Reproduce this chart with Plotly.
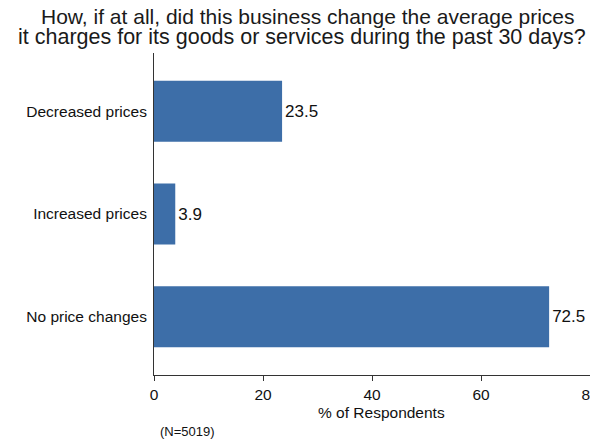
import plotly.graph_objects as go

categories = ["No price changes", "Increased prices", "Decreased prices"]
values = [72.5, 3.9, 23.5]
x_ticks = [0, 20, 40, 60, 80]
title_lines = ["How, if at all, did this business change the average prices",
               "it charges for its goods or services during the past 30 days?"]

FONT = "Liberation Sans, Arial"

fig = go.Figure(go.Bar(
    y=categories, x=values, orientation="h",
    marker=dict(color="#3d6ea8", line=dict(width=0)),
    width=0.594,
    text=[f"{v:.1f}" for v in values], textposition="outside",
    textfont=dict(size=17, color="#111111", family=FONT),
    cliponaxis=False,
))

fig.update_layout(
    width=590, height=433,
    margin=dict(l=146, r=8, t=45, b=66, autoexpand=False),
    paper_bgcolor="white", plot_bgcolor="white",
    font=dict(family=FONT, color="#111111"),
    showlegend=False,
    xaxis=dict(range=[0, 80], tickvals=x_ticks, ticks="outside", ticklen=5, tickcolor="#333",
               showline=True, linecolor="#333", linewidth=1, showgrid=False, zeroline=False,
               tickfont=dict(size=15.5), automargin=False, ticklabeloverflow="allow"),
    yaxis=dict(range=[-0.568, 2.568], showline=True, linecolor="#333", linewidth=1,
               showgrid=False, zeroline=False, ticks="", tickfont=dict(size=15.5),
               ticklabelstandoff=3, automargin=False),
    annotations=[
        dict(text=title_lines[0], xref="paper", yref="paper", x=0.353, y=1.113,
             xanchor="center", yanchor="middle", showarrow=False,
             font=dict(size=21, color="#1a1a1a")),
        dict(text=title_lines[1], xref="paper", yref="paper", x=0.339, y=1.050,
             xanchor="center", yanchor="middle", showarrow=False,
             font=dict(size=21.5, color="#1a1a1a")),
        dict(text="% of Respondents", xref="paper", yref="paper", x=0.521, y=-0.115,
             xanchor="center", yanchor="middle", showarrow=False, font=dict(size=15.5)),
        dict(text="(N=5019)", xref="paper", yref="paper", x=0.009, y=-0.177,
             xanchor="left", yanchor="middle", showarrow=False, font=dict(size=13)),
    ],
)

fig.write_html("out.html")
